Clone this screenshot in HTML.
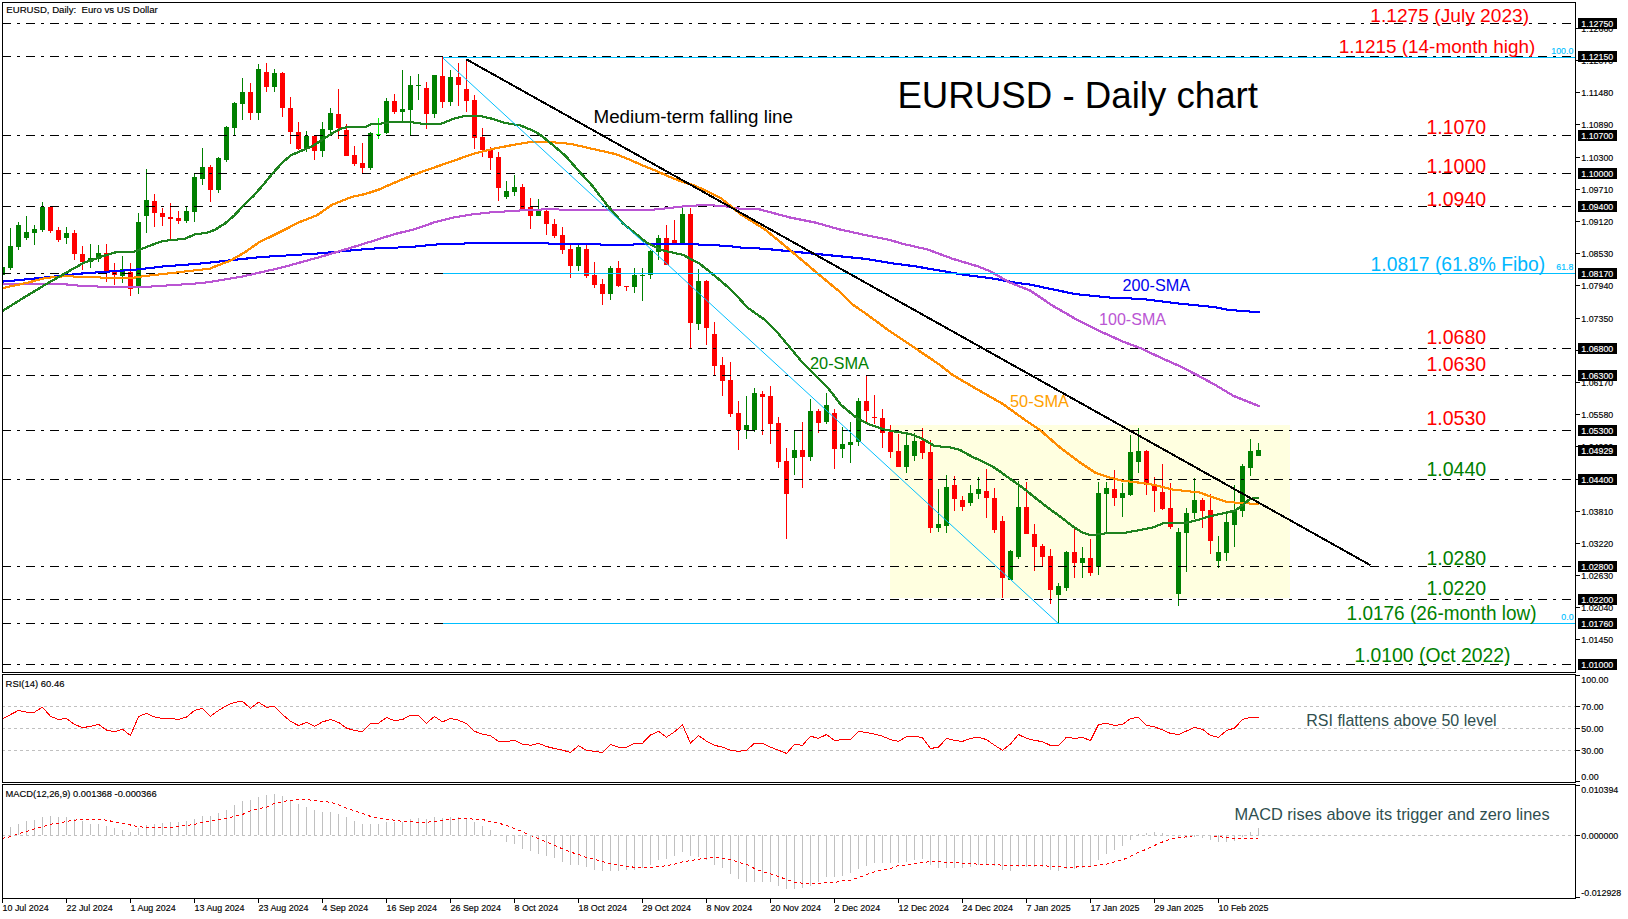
<!DOCTYPE html>
<html><head><meta charset="utf-8"><title>EURUSD - Daily chart</title>
<style>html,body{margin:0;padding:0;background:#fff;overflow:hidden}svg text{white-space:pre}</style></head>
<body>
<svg width="1628" height="919" viewBox="0 0 1628 919" style="display:block">
<rect x="0" y="0" width="1628" height="919" fill="#fff"/>
<defs><clipPath id="cm"><rect x="3" y="3" width="1572" height="669"/></clipPath></defs>
<g shape-rendering="crispEdges">
<g clip-path="url(#cm)">
<rect x="890" y="425" width="400" height="173" fill="#FFFFE0"/>
<rect x="2" y="265" width="1" height="12" fill="#008000"/>
<rect x="0" y="267" width="5" height="8" fill="#008000"/>
<rect x="10" y="228" width="1" height="42" fill="#008000"/>
<rect x="8" y="246" width="5" height="22" fill="#008000"/>
<rect x="18" y="222" width="1" height="28" fill="#008000"/>
<rect x="16" y="225" width="5" height="22" fill="#008000"/>
<rect x="26" y="216" width="1" height="24" fill="#008000"/>
<rect x="24" y="232" width="5" height="6" fill="#008000"/>
<rect x="34" y="225" width="1" height="20" fill="#008000"/>
<rect x="32" y="229" width="5" height="4" fill="#008000"/>
<rect x="42" y="202" width="1" height="30" fill="#008000"/>
<rect x="40" y="207" width="5" height="23" fill="#008000"/>
<rect x="50" y="207" width="1" height="26" fill="#FF0000"/>
<rect x="48" y="207" width="5" height="24" fill="#FF0000"/>
<rect x="58" y="227" width="1" height="15" fill="#FF0000"/>
<rect x="56" y="230" width="5" height="10" fill="#FF0000"/>
<rect x="66" y="227" width="1" height="17" fill="#008000"/>
<rect x="64" y="233" width="5" height="5" fill="#008000"/>
<rect x="74" y="230" width="1" height="30" fill="#FF0000"/>
<rect x="72" y="233" width="5" height="21" fill="#FF0000"/>
<rect x="82" y="246" width="1" height="24" fill="#FF0000"/>
<rect x="80" y="254" width="5" height="8" fill="#FF0000"/>
<rect x="90" y="244" width="1" height="24" fill="#008000"/>
<rect x="88" y="258" width="5" height="4" fill="#008000"/>
<rect x="98" y="245" width="1" height="17" fill="#008000"/>
<rect x="96" y="253" width="5" height="6" fill="#008000"/>
<rect x="106" y="244" width="1" height="38" fill="#FF0000"/>
<rect x="104" y="253" width="5" height="19" fill="#FF0000"/>
<rect x="114" y="263" width="1" height="22" fill="#FF0000"/>
<rect x="112" y="272" width="5" height="3" fill="#FF0000"/>
<rect x="122" y="256" width="1" height="27" fill="#008000"/>
<rect x="120" y="269" width="5" height="7" fill="#008000"/>
<rect x="130" y="263" width="1" height="33" fill="#FF0000"/>
<rect x="128" y="272" width="5" height="17" fill="#FF0000"/>
<rect x="138" y="213" width="1" height="81" fill="#008000"/>
<rect x="136" y="222" width="5" height="64" fill="#008000"/>
<rect x="146" y="169" width="1" height="64" fill="#008000"/>
<rect x="144" y="200" width="5" height="16" fill="#008000"/>
<rect x="154" y="194" width="1" height="33" fill="#FF0000"/>
<rect x="152" y="201" width="5" height="12" fill="#FF0000"/>
<rect x="162" y="208" width="1" height="18" fill="#FF0000"/>
<rect x="160" y="213" width="5" height="4" fill="#FF0000"/>
<rect x="170" y="203" width="1" height="36" fill="#FF0000"/>
<rect x="168" y="217" width="5" height="2" fill="#FF0000"/>
<rect x="178" y="211" width="1" height="13" fill="#FF0000"/>
<rect x="176" y="218" width="5" height="3" fill="#FF0000"/>
<rect x="186" y="207" width="1" height="16" fill="#008000"/>
<rect x="184" y="211" width="5" height="10" fill="#008000"/>
<rect x="194" y="174" width="1" height="48" fill="#008000"/>
<rect x="192" y="177" width="5" height="35" fill="#008000"/>
<rect x="202" y="148" width="1" height="37" fill="#008000"/>
<rect x="200" y="167" width="5" height="12" fill="#008000"/>
<rect x="210" y="165" width="1" height="37" fill="#FF0000"/>
<rect x="208" y="167" width="5" height="23" fill="#FF0000"/>
<rect x="218" y="157" width="1" height="36" fill="#008000"/>
<rect x="216" y="158" width="5" height="32" fill="#008000"/>
<rect x="226" y="126" width="1" height="36" fill="#008000"/>
<rect x="224" y="127" width="5" height="33" fill="#008000"/>
<rect x="234" y="102" width="1" height="33" fill="#008000"/>
<rect x="232" y="103" width="5" height="25" fill="#008000"/>
<rect x="242" y="78" width="1" height="42" fill="#008000"/>
<rect x="240" y="92" width="5" height="12" fill="#008000"/>
<rect x="250" y="83" width="1" height="37" fill="#FF0000"/>
<rect x="248" y="92" width="5" height="21" fill="#FF0000"/>
<rect x="258" y="64" width="1" height="56" fill="#008000"/>
<rect x="256" y="69" width="5" height="44" fill="#008000"/>
<rect x="266" y="63" width="1" height="29" fill="#FF0000"/>
<rect x="264" y="72" width="5" height="15" fill="#FF0000"/>
<rect x="274" y="69" width="1" height="23" fill="#008000"/>
<rect x="272" y="73" width="5" height="14" fill="#008000"/>
<rect x="282" y="72" width="1" height="45" fill="#FF0000"/>
<rect x="280" y="73" width="5" height="35" fill="#FF0000"/>
<rect x="290" y="97" width="1" height="47" fill="#FF0000"/>
<rect x="288" y="108" width="5" height="24" fill="#FF0000"/>
<rect x="298" y="122" width="1" height="28" fill="#FF0000"/>
<rect x="296" y="132" width="5" height="17" fill="#FF0000"/>
<rect x="306" y="131" width="1" height="21" fill="#008000"/>
<rect x="304" y="136" width="5" height="13" fill="#008000"/>
<rect x="314" y="135" width="1" height="25" fill="#FF0000"/>
<rect x="312" y="136" width="5" height="15" fill="#FF0000"/>
<rect x="322" y="122" width="1" height="35" fill="#008000"/>
<rect x="320" y="129" width="5" height="22" fill="#008000"/>
<rect x="330" y="108" width="1" height="27" fill="#008000"/>
<rect x="328" y="113" width="5" height="17" fill="#008000"/>
<rect x="338" y="89" width="1" height="50" fill="#FF0000"/>
<rect x="336" y="114" width="5" height="14" fill="#FF0000"/>
<rect x="346" y="124" width="1" height="32" fill="#FF0000"/>
<rect x="344" y="130" width="5" height="26" fill="#FF0000"/>
<rect x="354" y="146" width="1" height="20" fill="#FF0000"/>
<rect x="352" y="155" width="5" height="9" fill="#FF0000"/>
<rect x="362" y="143" width="1" height="30" fill="#FF0000"/>
<rect x="360" y="163" width="5" height="5" fill="#FF0000"/>
<rect x="370" y="132" width="1" height="38" fill="#008000"/>
<rect x="368" y="133" width="5" height="35" fill="#008000"/>
<rect x="378" y="118" width="1" height="21" fill="#00FF00"/>
<rect x="376" y="134" width="5" height="1" fill="#00FF00"/>
<rect x="386" y="98" width="1" height="36" fill="#008000"/>
<rect x="384" y="101" width="5" height="32" fill="#008000"/>
<rect x="394" y="94" width="1" height="20" fill="#FF0000"/>
<rect x="392" y="101" width="5" height="11" fill="#FF0000"/>
<rect x="402" y="70" width="1" height="52" fill="#008000"/>
<rect x="400" y="109" width="5" height="3" fill="#008000"/>
<rect x="410" y="76" width="1" height="60" fill="#008000"/>
<rect x="408" y="85" width="5" height="25" fill="#008000"/>
<rect x="418" y="74" width="1" height="26" fill="#008000"/>
<rect x="416" y="85" width="5" height="1" fill="#008000"/>
<rect x="426" y="82" width="1" height="47" fill="#FF0000"/>
<rect x="424" y="88" width="5" height="26" fill="#FF0000"/>
<rect x="434" y="75" width="1" height="43" fill="#008000"/>
<rect x="432" y="75" width="5" height="39" fill="#008000"/>
<rect x="442" y="57" width="1" height="51" fill="#FF0000"/>
<rect x="440" y="76" width="5" height="26" fill="#FF0000"/>
<rect x="450" y="70" width="1" height="36" fill="#008000"/>
<rect x="448" y="77" width="5" height="25" fill="#008000"/>
<rect x="458" y="63" width="1" height="43" fill="#FF0000"/>
<rect x="456" y="77" width="5" height="8" fill="#FF0000"/>
<rect x="466" y="59" width="1" height="53" fill="#FF0000"/>
<rect x="464" y="89" width="5" height="12" fill="#FF0000"/>
<rect x="474" y="95" width="1" height="54" fill="#FF0000"/>
<rect x="472" y="100" width="5" height="38" fill="#FF0000"/>
<rect x="482" y="128" width="1" height="29" fill="#FF0000"/>
<rect x="480" y="137" width="5" height="13" fill="#FF0000"/>
<rect x="490" y="147" width="1" height="23" fill="#FF0000"/>
<rect x="488" y="150" width="5" height="8" fill="#FF0000"/>
<rect x="498" y="152" width="1" height="49" fill="#FF0000"/>
<rect x="496" y="157" width="5" height="31" fill="#FF0000"/>
<rect x="506" y="181" width="1" height="18" fill="#008000"/>
<rect x="504" y="191" width="5" height="6" fill="#008000"/>
<rect x="514" y="175" width="1" height="21" fill="#008000"/>
<rect x="512" y="187" width="5" height="5" fill="#008000"/>
<rect x="522" y="184" width="1" height="25" fill="#FF0000"/>
<rect x="520" y="187" width="5" height="22" fill="#FF0000"/>
<rect x="530" y="198" width="1" height="31" fill="#FF0000"/>
<rect x="528" y="207" width="5" height="9" fill="#FF0000"/>
<rect x="538" y="199" width="1" height="17" fill="#008000"/>
<rect x="536" y="210" width="5" height="6" fill="#008000"/>
<rect x="546" y="210" width="1" height="25" fill="#FF0000"/>
<rect x="544" y="211" width="5" height="13" fill="#FF0000"/>
<rect x="554" y="219" width="1" height="19" fill="#FF0000"/>
<rect x="552" y="224" width="5" height="12" fill="#FF0000"/>
<rect x="562" y="227" width="1" height="27" fill="#FF0000"/>
<rect x="560" y="235" width="5" height="15" fill="#FF0000"/>
<rect x="570" y="245" width="1" height="33" fill="#FF0000"/>
<rect x="568" y="249" width="5" height="17" fill="#FF0000"/>
<rect x="578" y="245" width="1" height="26" fill="#008000"/>
<rect x="576" y="247" width="5" height="19" fill="#008000"/>
<rect x="586" y="245" width="1" height="33" fill="#FF0000"/>
<rect x="584" y="249" width="5" height="27" fill="#FF0000"/>
<rect x="594" y="262" width="1" height="26" fill="#FF0000"/>
<rect x="592" y="275" width="5" height="10" fill="#FF0000"/>
<rect x="602" y="279" width="1" height="26" fill="#FF0000"/>
<rect x="600" y="284" width="5" height="10" fill="#FF0000"/>
<rect x="610" y="266" width="1" height="34" fill="#008000"/>
<rect x="608" y="268" width="5" height="26" fill="#008000"/>
<rect x="618" y="261" width="1" height="26" fill="#FF0000"/>
<rect x="616" y="268" width="5" height="18" fill="#FF0000"/>
<rect x="626" y="286" width="1" height="5" fill="#FF0000"/>
<rect x="624" y="286" width="5" height="1" fill="#FF0000"/>
<rect x="634" y="268" width="1" height="25" fill="#008000"/>
<rect x="632" y="275" width="5" height="12" fill="#008000"/>
<rect x="642" y="268" width="1" height="33" fill="#008000"/>
<rect x="640" y="275" width="5" height="1" fill="#008000"/>
<rect x="650" y="250" width="1" height="29" fill="#008000"/>
<rect x="648" y="251" width="5" height="24" fill="#008000"/>
<rect x="658" y="235" width="1" height="25" fill="#008000"/>
<rect x="656" y="238" width="5" height="14" fill="#008000"/>
<rect x="666" y="225" width="1" height="40" fill="#FF0000"/>
<rect x="664" y="238" width="5" height="27" fill="#FF0000"/>
<rect x="674" y="220" width="1" height="24" fill="#FF0000"/>
<rect x="672" y="240" width="5" height="3" fill="#FF0000"/>
<rect x="682" y="208" width="1" height="35" fill="#008000"/>
<rect x="680" y="214" width="5" height="29" fill="#008000"/>
<rect x="690" y="208" width="1" height="140" fill="#FF0000"/>
<rect x="688" y="214" width="5" height="109" fill="#FF0000"/>
<rect x="698" y="269" width="1" height="61" fill="#008000"/>
<rect x="696" y="281" width="5" height="43" fill="#008000"/>
<rect x="706" y="280" width="1" height="65" fill="#FF0000"/>
<rect x="704" y="281" width="5" height="47" fill="#FF0000"/>
<rect x="714" y="322" width="1" height="54" fill="#FF0000"/>
<rect x="712" y="334" width="5" height="32" fill="#FF0000"/>
<rect x="722" y="357" width="1" height="39" fill="#FF0000"/>
<rect x="720" y="365" width="5" height="16" fill="#FF0000"/>
<rect x="730" y="362" width="1" height="55" fill="#FF0000"/>
<rect x="728" y="380" width="5" height="34" fill="#FF0000"/>
<rect x="738" y="401" width="1" height="49" fill="#FF0000"/>
<rect x="736" y="413" width="5" height="17" fill="#FF0000"/>
<rect x="746" y="396" width="1" height="43" fill="#008000"/>
<rect x="744" y="425" width="5" height="5" fill="#008000"/>
<rect x="754" y="388" width="1" height="44" fill="#008000"/>
<rect x="752" y="393" width="5" height="37" fill="#008000"/>
<rect x="762" y="391" width="1" height="44" fill="#FF0000"/>
<rect x="760" y="394" width="5" height="3" fill="#FF0000"/>
<rect x="770" y="386" width="1" height="58" fill="#FF0000"/>
<rect x="768" y="396" width="5" height="28" fill="#FF0000"/>
<rect x="778" y="417" width="1" height="51" fill="#FF0000"/>
<rect x="776" y="423" width="5" height="39" fill="#FF0000"/>
<rect x="786" y="448" width="1" height="91" fill="#FF0000"/>
<rect x="784" y="461" width="5" height="33" fill="#FF0000"/>
<rect x="794" y="430" width="1" height="45" fill="#008000"/>
<rect x="792" y="450" width="5" height="8" fill="#008000"/>
<rect x="802" y="422" width="1" height="66" fill="#FF0000"/>
<rect x="800" y="450" width="5" height="7" fill="#FF0000"/>
<rect x="810" y="399" width="1" height="62" fill="#008000"/>
<rect x="808" y="411" width="5" height="46" fill="#008000"/>
<rect x="818" y="409" width="1" height="24" fill="#FF0000"/>
<rect x="816" y="411" width="5" height="12" fill="#FF0000"/>
<rect x="826" y="393" width="1" height="31" fill="#008000"/>
<rect x="824" y="405" width="5" height="17" fill="#008000"/>
<rect x="834" y="409" width="1" height="60" fill="#FF0000"/>
<rect x="832" y="413" width="5" height="36" fill="#FF0000"/>
<rect x="842" y="427" width="1" height="31" fill="#008000"/>
<rect x="840" y="444" width="5" height="5" fill="#008000"/>
<rect x="850" y="422" width="1" height="41" fill="#008000"/>
<rect x="848" y="442" width="5" height="3" fill="#008000"/>
<rect x="858" y="398" width="1" height="48" fill="#008000"/>
<rect x="856" y="401" width="5" height="41" fill="#008000"/>
<rect x="866" y="375" width="1" height="48" fill="#FF0000"/>
<rect x="864" y="401" width="5" height="10" fill="#FF0000"/>
<rect x="874" y="395" width="1" height="29" fill="#FF0000"/>
<rect x="872" y="417" width="5" height="1" fill="#FF0000"/>
<rect x="882" y="409" width="1" height="39" fill="#FF0000"/>
<rect x="880" y="418" width="5" height="15" fill="#FF0000"/>
<rect x="890" y="425" width="1" height="33" fill="#FF0000"/>
<rect x="888" y="432" width="5" height="20" fill="#FF0000"/>
<rect x="898" y="434" width="1" height="33" fill="#FF0000"/>
<rect x="896" y="451" width="5" height="16" fill="#FF0000"/>
<rect x="906" y="434" width="1" height="39" fill="#008000"/>
<rect x="904" y="445" width="5" height="22" fill="#008000"/>
<rect x="914" y="433" width="1" height="28" fill="#008000"/>
<rect x="912" y="441" width="5" height="15" fill="#008000"/>
<rect x="922" y="428" width="1" height="31" fill="#FF0000"/>
<rect x="920" y="441" width="5" height="12" fill="#FF0000"/>
<rect x="930" y="440" width="1" height="93" fill="#FF0000"/>
<rect x="928" y="452" width="5" height="76" fill="#FF0000"/>
<rect x="938" y="489" width="1" height="43" fill="#008000"/>
<rect x="936" y="524" width="5" height="4" fill="#008000"/>
<rect x="946" y="475" width="1" height="58" fill="#008000"/>
<rect x="944" y="487" width="5" height="39" fill="#008000"/>
<rect x="954" y="476" width="1" height="35" fill="#FF0000"/>
<rect x="952" y="485" width="5" height="14" fill="#FF0000"/>
<rect x="962" y="496" width="1" height="15" fill="#FF0000"/>
<rect x="960" y="500" width="5" height="7" fill="#FF0000"/>
<rect x="970" y="485" width="1" height="21" fill="#008000"/>
<rect x="968" y="493" width="5" height="10" fill="#008000"/>
<rect x="978" y="477" width="1" height="22" fill="#008000"/>
<rect x="976" y="489" width="5" height="5" fill="#008000"/>
<rect x="986" y="469" width="1" height="49" fill="#FF0000"/>
<rect x="984" y="491" width="5" height="7" fill="#FF0000"/>
<rect x="994" y="488" width="1" height="45" fill="#FF0000"/>
<rect x="992" y="498" width="5" height="32" fill="#FF0000"/>
<rect x="1002" y="516" width="1" height="82" fill="#FF0000"/>
<rect x="1000" y="521" width="5" height="57" fill="#FF0000"/>
<rect x="1010" y="550" width="1" height="30" fill="#008000"/>
<rect x="1008" y="551" width="5" height="29" fill="#008000"/>
<rect x="1018" y="481" width="1" height="78" fill="#008000"/>
<rect x="1016" y="507" width="5" height="50" fill="#008000"/>
<rect x="1026" y="482" width="1" height="52" fill="#FF0000"/>
<rect x="1024" y="507" width="5" height="27" fill="#FF0000"/>
<rect x="1034" y="524" width="1" height="47" fill="#FF0000"/>
<rect x="1032" y="534" width="5" height="13" fill="#FF0000"/>
<rect x="1042" y="544" width="1" height="22" fill="#FF0000"/>
<rect x="1040" y="546" width="5" height="11" fill="#FF0000"/>
<rect x="1050" y="549" width="1" height="55" fill="#FF0000"/>
<rect x="1048" y="556" width="5" height="34" fill="#FF0000"/>
<rect x="1058" y="583" width="1" height="40" fill="#008000"/>
<rect x="1056" y="586" width="5" height="9" fill="#008000"/>
<rect x="1066" y="551" width="1" height="40" fill="#008000"/>
<rect x="1064" y="552" width="5" height="36" fill="#008000"/>
<rect x="1074" y="526" width="1" height="52" fill="#FF0000"/>
<rect x="1072" y="552" width="5" height="11" fill="#FF0000"/>
<rect x="1082" y="547" width="1" height="31" fill="#008000"/>
<rect x="1080" y="558" width="5" height="5" fill="#008000"/>
<rect x="1090" y="539" width="1" height="37" fill="#FF0000"/>
<rect x="1088" y="558" width="5" height="15" fill="#FF0000"/>
<rect x="1098" y="482" width="1" height="93" fill="#008000"/>
<rect x="1096" y="493" width="5" height="74" fill="#008000"/>
<rect x="1106" y="482" width="1" height="51" fill="#008000"/>
<rect x="1104" y="488" width="5" height="6" fill="#008000"/>
<rect x="1114" y="470" width="1" height="36" fill="#FF0000"/>
<rect x="1112" y="489" width="5" height="9" fill="#FF0000"/>
<rect x="1122" y="483" width="1" height="34" fill="#008000"/>
<rect x="1120" y="493" width="5" height="5" fill="#008000"/>
<rect x="1130" y="435" width="1" height="61" fill="#008000"/>
<rect x="1128" y="452" width="5" height="43" fill="#008000"/>
<rect x="1138" y="428" width="1" height="45" fill="#008000"/>
<rect x="1136" y="451" width="5" height="11" fill="#008000"/>
<rect x="1146" y="450" width="1" height="45" fill="#FF0000"/>
<rect x="1144" y="451" width="5" height="34" fill="#FF0000"/>
<rect x="1154" y="477" width="1" height="35" fill="#FF0000"/>
<rect x="1152" y="485" width="5" height="6" fill="#FF0000"/>
<rect x="1162" y="464" width="1" height="46" fill="#FF0000"/>
<rect x="1160" y="492" width="5" height="17" fill="#FF0000"/>
<rect x="1170" y="483" width="1" height="46" fill="#FF0000"/>
<rect x="1168" y="508" width="5" height="19" fill="#FF0000"/>
<rect x="1178" y="528" width="1" height="78" fill="#008000"/>
<rect x="1176" y="532" width="5" height="62" fill="#008000"/>
<rect x="1186" y="508" width="1" height="64" fill="#008000"/>
<rect x="1184" y="513" width="5" height="20" fill="#008000"/>
<rect x="1194" y="478" width="1" height="41" fill="#008000"/>
<rect x="1192" y="500" width="5" height="13" fill="#008000"/>
<rect x="1202" y="498" width="1" height="30" fill="#FF0000"/>
<rect x="1200" y="500" width="5" height="11" fill="#FF0000"/>
<rect x="1210" y="494" width="1" height="60" fill="#FF0000"/>
<rect x="1208" y="510" width="5" height="31" fill="#FF0000"/>
<rect x="1218" y="536" width="1" height="32" fill="#008000"/>
<rect x="1216" y="552" width="5" height="9" fill="#008000"/>
<rect x="1226" y="514" width="1" height="47" fill="#008000"/>
<rect x="1224" y="522" width="5" height="31" fill="#008000"/>
<rect x="1234" y="485" width="1" height="62" fill="#008000"/>
<rect x="1232" y="510" width="5" height="15" fill="#008000"/>
<rect x="1242" y="464" width="1" height="53" fill="#008000"/>
<rect x="1240" y="466" width="5" height="45" fill="#008000"/>
<rect x="1250" y="439" width="1" height="37" fill="#008000"/>
<rect x="1248" y="451" width="5" height="17" fill="#008000"/>
<rect x="1258" y="443" width="1" height="13" fill="#008000"/>
<rect x="1256" y="450" width="5" height="6" fill="#008000"/>
<line x1="2" y1="23.5" x2="1575" y2="23.5" stroke="#000" stroke-width="1" stroke-dasharray="9 6 3 6"/>
<line x1="2" y1="56.5" x2="1575" y2="56.5" stroke="#000" stroke-width="1" stroke-dasharray="9 6 3 6"/>
<line x1="2" y1="135.5" x2="1575" y2="135.5" stroke="#000" stroke-width="1" stroke-dasharray="9 6 3 6"/>
<line x1="2" y1="173.5" x2="1575" y2="173.5" stroke="#000" stroke-width="1" stroke-dasharray="9 6 3 6"/>
<line x1="2" y1="206.5" x2="1575" y2="206.5" stroke="#000" stroke-width="1" stroke-dasharray="9 6 3 6"/>
<line x1="2" y1="273.5" x2="1575" y2="273.5" stroke="#000" stroke-width="1" stroke-dasharray="9 6 3 6"/>
<line x1="2" y1="348.5" x2="1575" y2="348.5" stroke="#000" stroke-width="1" stroke-dasharray="9 6 3 6"/>
<line x1="2" y1="375.5" x2="1575" y2="375.5" stroke="#000" stroke-width="1" stroke-dasharray="9 6 3 6"/>
<line x1="2" y1="430.5" x2="1575" y2="430.5" stroke="#000" stroke-width="1" stroke-dasharray="9 6 3 6"/>
<line x1="2" y1="479.5" x2="1575" y2="479.5" stroke="#000" stroke-width="1" stroke-dasharray="9 6 3 6"/>
<line x1="2" y1="566.5" x2="1575" y2="566.5" stroke="#000" stroke-width="1" stroke-dasharray="9 6 3 6"/>
<line x1="2" y1="599.5" x2="1575" y2="599.5" stroke="#000" stroke-width="1" stroke-dasharray="9 6 3 6"/>
<line x1="2" y1="623.5" x2="1575" y2="623.5" stroke="#000" stroke-width="1" stroke-dasharray="9 6 3 6"/>
<line x1="2" y1="664.5" x2="1575" y2="664.5" stroke="#000" stroke-width="1" stroke-dasharray="9 6 3 6"/>
<defs><polyline id="p1" points="2.0,281.7 45.0,277.5 83.0,273.4 135.0,269.7 163.0,266.5 200.0,263.6 259.0,257.2 318.0,253.5 370.0,248.7 410.0,247.0 444.0,243.8 500.0,243.0 530.0,242.9 554.8,243.7 610.6,244.7 683.0,244.1 705.8,244.7 730.6,246.2 740.0,247.5 765.0,248.8 790.0,251.3 815.0,253.8 840.0,256.3 865.0,258.8 890.0,263.0 915.0,266.3 940.0,270.6 965.0,275.0 990.0,278.0 1015.0,282.6 1030.0,284.6 1052.0,289.2 1076.0,294.2 1113.0,297.9 1141.0,298.8 1178.0,303.5 1215.0,307.2 1228.0,309.9 1259.0,312.2" fill="none" stroke="#0000FF" stroke-width="1" stroke-linejoin="round"/></defs>
<use href="#p1" x="-0.5" y="-0.5"/>
<use href="#p1" x="0.5" y="-0.5"/>
<use href="#p1" x="-0.5" y="0.5"/>
<use href="#p1" x="0.5" y="0.5"/>
<defs><polyline id="p2" points="2.0,284.3 65.0,284.3 82.0,286.0 100.0,286.6 125.0,287.0 145.0,287.0 160.0,285.8 171.0,285.3 200.0,283.2 210.0,282.0 240.0,277.0 280.0,268.0 320.0,257.0 360.0,245.0 395.0,234.0 414.6,229.2 434.2,222.4 453.8,217.5 473.4,214.2 493.0,212.2 512.5,211.0 532.1,209.6 551.7,209.4 592.0,210.0 650.0,210.0 683.0,206.5 705.8,204.8 726.4,206.5 740.0,208.8 760.0,209.5 790.0,217.5 815.0,222.5 840.0,229.5 865.0,235.0 890.0,240.0 902.6,243.8 927.6,249.5 952.7,258.8 977.7,266.3 990.2,271.3 1010.0,282.6 1030.0,290.5 1052.0,305.3 1076.0,319.2 1100.0,331.2 1122.5,341.4 1141.0,348.4 1159.5,357.1 1178.0,365.4 1196.5,374.7 1215.0,384.8 1233.5,395.9 1259.0,406.1" fill="none" stroke="#BA55D3" stroke-width="1" stroke-linejoin="round"/></defs>
<use href="#p2" x="-0.5" y="-0.5"/>
<use href="#p2" x="0.5" y="-0.5"/>
<use href="#p2" x="-0.5" y="0.5"/>
<use href="#p2" x="0.5" y="0.5"/>
<defs><polyline id="p3" points="2.0,288.2 28.0,282.6 45.0,278.0 65.0,276.2 100.0,277.5 135.0,277.5 146.0,275.9 171.0,273.1 193.5,270.5 210.0,268.6 215.0,266.5 229.5,261.0 244.0,252.8 259.0,242.4 284.1,230.0 298.8,222.4 316.5,215.5 332.1,204.8 351.7,196.9 365.4,194.0 379.1,189.5 390.9,184.2 405.0,178.3 414.6,174.4 434.2,167.5 453.8,160.7 473.4,153.8 493.0,148.9 512.5,145.0 532.1,141.7 551.7,142.1 571.3,144.0 590.0,148.3 605.0,151.7 616.0,154.2 629.0,159.4 642.0,165.2 655.3,170.5 668.3,176.3 681.4,181.6 694.4,185.5 707.5,191.4 720.5,197.9 727.0,203.1 733.6,208.3 740.0,213.8 765.0,229.5 790.0,250.0 815.0,271.3 840.0,292.0 852.6,304.6 865.0,313.0 890.0,331.4 915.0,348.0 940.0,365.0 952.7,375.0 977.7,389.6 1002.7,403.9 1025.0,420.0 1040.0,430.0 1060.0,447.5 1080.0,462.6 1095.0,472.6 1110.0,477.6 1122.5,480.8 1135.0,482.1 1147.6,483.8 1160.0,486.3 1172.6,489.6 1185.0,490.9 1200.0,492.6 1210.0,496.4 1225.0,501.4 1235.0,502.6 1247.7,503.4 1258.5,504.1" fill="none" stroke="#FF8C00" stroke-width="1" stroke-linejoin="round"/></defs>
<use href="#p3" x="-0.5" y="-0.5"/>
<use href="#p3" x="0.5" y="-0.5"/>
<use href="#p3" x="-0.5" y="0.5"/>
<use href="#p3" x="0.5" y="0.5"/>
<defs><polyline id="p4" points="2.0,311.3 20.0,300.0 47.0,283.6 65.0,273.4 83.0,263.2 102.0,256.4 115.0,252.5 135.0,251.5 150.0,245.6 163.0,241.0 185.0,238.8 195.0,234.2 206.8,232.9 214.6,229.9 224.4,223.9 234.2,215.6 244.0,204.9 253.8,195.6 263.6,184.3 273.4,172.5 283.1,161.8 291.0,155.3 300.8,151.0 312.5,146.1 322.3,139.6 332.1,133.4 341.9,128.5 347.8,126.9 365.4,126.9 371.3,124.0 381.1,123.6 390.9,122.2 410.7,122.1 424.4,124.0 442.0,123.5 453.8,118.6 463.6,116.2 479.2,115.6 493.0,119.0 504.7,122.9 520.4,125.4 532.1,130.3 540.0,134.6 551.7,144.0 565.4,155.8 581.0,173.4 591.0,184.2 608.6,206.9 623.0,223.4 645.8,242.0 662.3,250.3 683.0,254.9 699.6,263.7 712.0,273.5 728.5,287.5 736.8,295.8 747.5,307.6 765.0,320.0 777.5,332.6 790.0,347.6 802.5,362.6 815.0,375.0 828.0,387.9 841.0,404.9 856.8,418.0 869.8,424.5 882.9,429.2 897.5,432.0 910.0,433.8 922.5,438.8 935.0,446.3 947.6,446.8 960.0,450.0 972.6,457.0 985.0,462.6 995.0,468.0 1010.0,478.8 1022.7,487.6 1035.0,497.6 1047.7,507.6 1060.0,516.4 1072.7,526.4 1082.7,532.7 1090.0,535.0 1097.8,534.4 1105.0,533.4 1122.5,533.4 1135.0,530.9 1152.6,527.6 1165.0,522.6 1185.0,523.0 1197.6,520.0 1210.0,516.2 1225.0,513.0 1235.0,510.5 1243.0,505.0 1249.0,499.6 1254.0,498.0 1258.5,498.0" fill="none" stroke="#1E821E" stroke-width="1" stroke-linejoin="round"/></defs>
<use href="#p4" x="-0.5" y="-0.5"/>
<use href="#p4" x="0.5" y="-0.5"/>
<use href="#p4" x="-0.5" y="0.5"/>
<use href="#p4" x="0.5" y="0.5"/>
<line x1="443" y1="57.5" x2="1575" y2="57.5" stroke="#00BFFF" stroke-width="1"/>
<line x1="443" y1="273.5" x2="1575" y2="273.5" stroke="#00BFFF" stroke-width="1"/>
<line x1="443" y1="623.5" x2="1575" y2="623.5" stroke="#00BFFF" stroke-width="1"/>
<line x1="443" y1="58.1" x2="1058.5" y2="623.6" stroke="#00BFFF" stroke-width="1" shape-rendering="auto"/>
<line x1="466.5" y1="59.4" x2="1370.6" y2="565.3" stroke="#000" stroke-width="2"/>
</g>
<line x1="2" y1="706.5" x2="1575" y2="706.5" stroke="#C0C0C0" stroke-width="1" stroke-dasharray="3 3"/>
<line x1="2" y1="728.5" x2="1575" y2="728.5" stroke="#C0C0C0" stroke-width="1" stroke-dasharray="3 3"/>
<line x1="2" y1="750.5" x2="1575" y2="750.5" stroke="#C0C0C0" stroke-width="1" stroke-dasharray="3 3"/>
<polyline points="2.5,719.0 10.5,714.6 18.5,710.4 26.5,712.1 34.5,712.1 42.5,707.2 50.5,716.3 58.5,719.5 66.5,718.5 74.5,724.4 82.5,727.6 90.5,726.4 98.5,724.4 106.5,730.0 114.5,731.8 122.5,729.3 130.5,735.5 138.5,716.5 146.5,713.3 154.5,717.0 162.5,718.5 170.5,718.5 178.5,719.5 186.5,717.0 194.5,710.4 202.5,708.4 210.5,716.3 218.5,710.4 226.5,705.5 234.5,702.3 242.5,701.3 250.5,708.4 258.5,702.3 266.5,707.2 274.5,706.5 282.5,714.6 290.5,721.2 298.5,725.6 306.5,722.4 314.5,726.4 322.5,721.9 330.5,719.5 338.5,722.4 346.5,728.1 354.5,730.5 362.5,731.8 370.5,723.7 378.5,723.2 386.5,717.5 394.5,720.7 402.5,719.5 410.5,715.3 418.5,715.3 426.5,723.2 434.5,716.5 442.5,721.9 450.5,718.5 458.5,720.2 466.5,723.7 474.5,731.3 482.5,734.2 490.5,735.7 498.5,741.4 506.5,741.4 514.5,740.4 522.5,744.1 530.5,745.3 538.5,743.3 546.5,746.5 554.5,748.5 562.5,750.2 570.5,752.4 578.5,745.8 586.5,750.2 594.5,751.4 602.5,752.4 610.5,744.5 618.5,747.2 626.5,747.2 634.5,743.3 642.5,743.3 650.5,735.0 658.5,731.3 666.5,737.2 674.5,731.8 682.5,724.9 690.5,743.1 698.5,735.5 706.5,741.1 714.5,745.3 722.5,747.2 730.5,750.2 738.5,751.4 746.5,750.2 754.5,743.3 762.5,743.3 770.5,747.2 778.5,750.2 786.5,753.4 794.5,744.5 802.5,745.3 810.5,736.2 818.5,738.4 826.5,734.5 834.5,740.6 842.5,739.6 850.5,739.6 858.5,731.5 866.5,732.5 874.5,734.2 882.5,736.2 890.5,739.6 898.5,741.4 906.5,736.7 914.5,736.2 922.5,737.7 930.5,748.5 938.5,747.2 946.5,738.4 954.5,740.4 962.5,741.4 970.5,738.4 978.5,737.2 986.5,739.6 994.5,745.3 1002.5,750.2 1010.5,744.1 1018.5,734.5 1026.5,738.4 1034.5,740.4 1042.5,741.6 1050.5,745.5 1058.5,745.5 1066.5,737.2 1074.5,738.4 1082.5,737.4 1090.5,740.6 1098.5,724.6 1106.5,723.2 1114.5,725.4 1122.5,724.4 1130.5,718.7 1138.5,717.3 1146.5,725.4 1154.5,726.9 1162.5,729.8 1170.5,733.5 1178.5,734.5 1186.5,731.0 1194.5,727.3 1202.5,729.3 1210.5,735.5 1218.5,737.4 1226.5,730.5 1234.5,728.1 1242.5,719.5 1250.5,717.3 1258.5,717.3" fill="none" stroke="#FF0000" stroke-width="1"/>
<rect x="10" y="827" width="1" height="8" fill="#C0C0C0"/>
<rect x="18" y="824" width="1" height="11" fill="#C0C0C0"/>
<rect x="26" y="821" width="1" height="14" fill="#C0C0C0"/>
<rect x="34" y="820" width="1" height="15" fill="#C0C0C0"/>
<rect x="42" y="817" width="1" height="18" fill="#C0C0C0"/>
<rect x="50" y="816" width="1" height="19" fill="#C0C0C0"/>
<rect x="58" y="817" width="1" height="18" fill="#C0C0C0"/>
<rect x="66" y="817" width="1" height="18" fill="#C0C0C0"/>
<rect x="74" y="819" width="1" height="16" fill="#C0C0C0"/>
<rect x="82" y="821" width="1" height="14" fill="#C0C0C0"/>
<rect x="90" y="824" width="1" height="11" fill="#C0C0C0"/>
<rect x="98" y="824" width="1" height="11" fill="#C0C0C0"/>
<rect x="106" y="826" width="1" height="9" fill="#C0C0C0"/>
<rect x="114" y="828" width="1" height="7" fill="#C0C0C0"/>
<rect x="122" y="830" width="1" height="5" fill="#C0C0C0"/>
<rect x="130" y="832" width="1" height="3" fill="#C0C0C0"/>
<rect x="138" y="828" width="1" height="7" fill="#C0C0C0"/>
<rect x="146" y="825" width="1" height="10" fill="#C0C0C0"/>
<rect x="154" y="824" width="1" height="11" fill="#C0C0C0"/>
<rect x="162" y="823" width="1" height="12" fill="#C0C0C0"/>
<rect x="170" y="822" width="1" height="13" fill="#C0C0C0"/>
<rect x="178" y="822" width="1" height="13" fill="#C0C0C0"/>
<rect x="186" y="821" width="1" height="14" fill="#C0C0C0"/>
<rect x="194" y="819" width="1" height="16" fill="#C0C0C0"/>
<rect x="202" y="816" width="1" height="19" fill="#C0C0C0"/>
<rect x="210" y="816" width="1" height="19" fill="#C0C0C0"/>
<rect x="218" y="813" width="1" height="22" fill="#C0C0C0"/>
<rect x="226" y="810" width="1" height="25" fill="#C0C0C0"/>
<rect x="234" y="805" width="1" height="30" fill="#C0C0C0"/>
<rect x="242" y="801" width="1" height="34" fill="#C0C0C0"/>
<rect x="250" y="800" width="1" height="35" fill="#C0C0C0"/>
<rect x="258" y="797" width="1" height="38" fill="#C0C0C0"/>
<rect x="266" y="795" width="1" height="40" fill="#C0C0C0"/>
<rect x="274" y="794" width="1" height="41" fill="#C0C0C0"/>
<rect x="282" y="796" width="1" height="39" fill="#C0C0C0"/>
<rect x="290" y="800" width="1" height="35" fill="#C0C0C0"/>
<rect x="298" y="804" width="1" height="31" fill="#C0C0C0"/>
<rect x="306" y="807" width="1" height="28" fill="#C0C0C0"/>
<rect x="314" y="810" width="1" height="25" fill="#C0C0C0"/>
<rect x="322" y="812" width="1" height="23" fill="#C0C0C0"/>
<rect x="330" y="812" width="1" height="23" fill="#C0C0C0"/>
<rect x="338" y="814" width="1" height="21" fill="#C0C0C0"/>
<rect x="346" y="817" width="1" height="18" fill="#C0C0C0"/>
<rect x="354" y="821" width="1" height="14" fill="#C0C0C0"/>
<rect x="362" y="824" width="1" height="11" fill="#C0C0C0"/>
<rect x="370" y="824" width="1" height="11" fill="#C0C0C0"/>
<rect x="378" y="824" width="1" height="11" fill="#C0C0C0"/>
<rect x="386" y="822" width="1" height="13" fill="#C0C0C0"/>
<rect x="394" y="822" width="1" height="13" fill="#C0C0C0"/>
<rect x="402" y="822" width="1" height="13" fill="#C0C0C0"/>
<rect x="410" y="819" width="1" height="16" fill="#C0C0C0"/>
<rect x="418" y="818" width="1" height="17" fill="#C0C0C0"/>
<rect x="426" y="819" width="1" height="16" fill="#C0C0C0"/>
<rect x="434" y="817" width="1" height="18" fill="#C0C0C0"/>
<rect x="442" y="818" width="1" height="17" fill="#C0C0C0"/>
<rect x="450" y="817" width="1" height="18" fill="#C0C0C0"/>
<rect x="458" y="817" width="1" height="18" fill="#C0C0C0"/>
<rect x="466" y="818" width="1" height="17" fill="#C0C0C0"/>
<rect x="474" y="822" width="1" height="13" fill="#C0C0C0"/>
<rect x="482" y="826" width="1" height="9" fill="#C0C0C0"/>
<rect x="490" y="830" width="1" height="5" fill="#C0C0C0"/>
<rect x="506" y="835" width="1" height="7" fill="#C0C0C0"/>
<rect x="514" y="835" width="1" height="9" fill="#C0C0C0"/>
<rect x="522" y="835" width="1" height="14" fill="#C0C0C0"/>
<rect x="530" y="835" width="1" height="16" fill="#C0C0C0"/>
<rect x="538" y="835" width="1" height="19" fill="#C0C0C0"/>
<rect x="546" y="835" width="1" height="21" fill="#C0C0C0"/>
<rect x="554" y="835" width="1" height="23" fill="#C0C0C0"/>
<rect x="562" y="835" width="1" height="27" fill="#C0C0C0"/>
<rect x="570" y="835" width="1" height="30" fill="#C0C0C0"/>
<rect x="578" y="835" width="1" height="30" fill="#C0C0C0"/>
<rect x="586" y="835" width="1" height="32" fill="#C0C0C0"/>
<rect x="594" y="835" width="1" height="35" fill="#C0C0C0"/>
<rect x="602" y="835" width="1" height="36" fill="#C0C0C0"/>
<rect x="610" y="835" width="1" height="36" fill="#C0C0C0"/>
<rect x="618" y="835" width="1" height="36" fill="#C0C0C0"/>
<rect x="626" y="835" width="1" height="35" fill="#C0C0C0"/>
<rect x="634" y="835" width="1" height="35" fill="#C0C0C0"/>
<rect x="642" y="835" width="1" height="33" fill="#C0C0C0"/>
<rect x="650" y="835" width="1" height="30" fill="#C0C0C0"/>
<rect x="658" y="835" width="1" height="25" fill="#C0C0C0"/>
<rect x="666" y="835" width="1" height="24" fill="#C0C0C0"/>
<rect x="674" y="835" width="1" height="21" fill="#C0C0C0"/>
<rect x="682" y="835" width="1" height="17" fill="#C0C0C0"/>
<rect x="690" y="835" width="1" height="21" fill="#C0C0C0"/>
<rect x="698" y="835" width="1" height="22" fill="#C0C0C0"/>
<rect x="706" y="835" width="1" height="25" fill="#C0C0C0"/>
<rect x="714" y="835" width="1" height="30" fill="#C0C0C0"/>
<rect x="722" y="835" width="1" height="33" fill="#C0C0C0"/>
<rect x="730" y="835" width="1" height="39" fill="#C0C0C0"/>
<rect x="738" y="835" width="1" height="44" fill="#C0C0C0"/>
<rect x="746" y="835" width="1" height="47" fill="#C0C0C0"/>
<rect x="754" y="835" width="1" height="47" fill="#C0C0C0"/>
<rect x="762" y="835" width="1" height="47" fill="#C0C0C0"/>
<rect x="770" y="835" width="1" height="47" fill="#C0C0C0"/>
<rect x="778" y="835" width="1" height="51" fill="#C0C0C0"/>
<rect x="786" y="835" width="1" height="54" fill="#C0C0C0"/>
<rect x="794" y="835" width="1" height="54" fill="#C0C0C0"/>
<rect x="802" y="835" width="1" height="53" fill="#C0C0C0"/>
<rect x="810" y="835" width="1" height="51" fill="#C0C0C0"/>
<rect x="818" y="835" width="1" height="47" fill="#C0C0C0"/>
<rect x="826" y="835" width="1" height="42" fill="#C0C0C0"/>
<rect x="834" y="835" width="1" height="42" fill="#C0C0C0"/>
<rect x="842" y="835" width="1" height="41" fill="#C0C0C0"/>
<rect x="850" y="835" width="1" height="38" fill="#C0C0C0"/>
<rect x="858" y="835" width="1" height="34" fill="#C0C0C0"/>
<rect x="866" y="835" width="1" height="31" fill="#C0C0C0"/>
<rect x="874" y="835" width="1" height="28" fill="#C0C0C0"/>
<rect x="882" y="835" width="1" height="28" fill="#C0C0C0"/>
<rect x="890" y="835" width="1" height="28" fill="#C0C0C0"/>
<rect x="898" y="835" width="1" height="28" fill="#C0C0C0"/>
<rect x="906" y="835" width="1" height="27" fill="#C0C0C0"/>
<rect x="914" y="835" width="1" height="25" fill="#C0C0C0"/>
<rect x="922" y="835" width="1" height="24" fill="#C0C0C0"/>
<rect x="930" y="835" width="1" height="30" fill="#C0C0C0"/>
<rect x="938" y="835" width="1" height="33" fill="#C0C0C0"/>
<rect x="946" y="835" width="1" height="33" fill="#C0C0C0"/>
<rect x="954" y="835" width="1" height="33" fill="#C0C0C0"/>
<rect x="962" y="835" width="1" height="33" fill="#C0C0C0"/>
<rect x="970" y="835" width="1" height="32" fill="#C0C0C0"/>
<rect x="978" y="835" width="1" height="30" fill="#C0C0C0"/>
<rect x="986" y="835" width="1" height="30" fill="#C0C0C0"/>
<rect x="994" y="835" width="1" height="31" fill="#C0C0C0"/>
<rect x="1002" y="835" width="1" height="35" fill="#C0C0C0"/>
<rect x="1010" y="835" width="1" height="36" fill="#C0C0C0"/>
<rect x="1018" y="835" width="1" height="32" fill="#C0C0C0"/>
<rect x="1026" y="835" width="1" height="32" fill="#C0C0C0"/>
<rect x="1034" y="835" width="1" height="32" fill="#C0C0C0"/>
<rect x="1042" y="835" width="1" height="32" fill="#C0C0C0"/>
<rect x="1050" y="835" width="1" height="35" fill="#C0C0C0"/>
<rect x="1058" y="835" width="1" height="36" fill="#C0C0C0"/>
<rect x="1066" y="835" width="1" height="34" fill="#C0C0C0"/>
<rect x="1074" y="835" width="1" height="34" fill="#C0C0C0"/>
<rect x="1082" y="835" width="1" height="33" fill="#C0C0C0"/>
<rect x="1090" y="835" width="1" height="32" fill="#C0C0C0"/>
<rect x="1098" y="835" width="1" height="25" fill="#C0C0C0"/>
<rect x="1106" y="835" width="1" height="19" fill="#C0C0C0"/>
<rect x="1114" y="835" width="1" height="15" fill="#C0C0C0"/>
<rect x="1122" y="835" width="1" height="11" fill="#C0C0C0"/>
<rect x="1130" y="835" width="1" height="5" fill="#C0C0C0"/>
<rect x="1138" y="834" width="1" height="1" fill="#C0C0C0"/>
<rect x="1146" y="833" width="1" height="2" fill="#C0C0C0"/>
<rect x="1154" y="832" width="1" height="3" fill="#C0C0C0"/>
<rect x="1162" y="833" width="1" height="2" fill="#C0C0C0"/>
<rect x="1178" y="835" width="1" height="3" fill="#C0C0C0"/>
<rect x="1186" y="835" width="1" height="3" fill="#C0C0C0"/>
<rect x="1194" y="835" width="1" height="2" fill="#C0C0C0"/>
<rect x="1202" y="835" width="1" height="3" fill="#C0C0C0"/>
<rect x="1210" y="835" width="1" height="5" fill="#C0C0C0"/>
<rect x="1218" y="835" width="1" height="7" fill="#C0C0C0"/>
<rect x="1226" y="835" width="1" height="7" fill="#C0C0C0"/>
<rect x="1234" y="835" width="1" height="6" fill="#C0C0C0"/>
<rect x="1242" y="835" width="1" height="2" fill="#C0C0C0"/>
<rect x="1250" y="832" width="1" height="3" fill="#C0C0C0"/>
<rect x="1258" y="828" width="1" height="7" fill="#C0C0C0"/>
<defs><pattern id="dp" x="2" y="0" width="6" height="200" patternUnits="userSpaceOnUse"><rect x="0" y="0" width="3" height="200" fill="#fff"/></pattern><mask id="dm" maskUnits="userSpaceOnUse" x="0" y="780" width="1628" height="125"><rect x="0" y="780" width="1628" height="125" fill="url(#dp)"/></mask></defs>
<polyline mask="url(#dm)" points="2.5,838.3 10.5,836.6 18.5,833.6 26.5,831.7 34.5,828.7 42.5,826.8 50.5,824.3 58.5,823.1 66.5,821.4 74.5,820.1 82.5,819.4 90.5,819.4 98.5,819.4 106.5,820.1 114.5,821.9 122.5,823.1 130.5,825.0 138.5,826.8 146.5,827.3 154.5,827.3 162.5,827.3 170.5,827.3 178.5,826.3 186.5,825.5 194.5,824.3 202.5,822.3 210.5,821.1 218.5,819.4 226.5,818.7 234.5,816.2 242.5,814.5 250.5,810.8 258.5,808.8 266.5,807.1 274.5,803.4 282.5,801.7 290.5,800.2 298.5,799.7 306.5,799.7 314.5,800.5 322.5,801.5 330.5,802.2 338.5,804.7 346.5,808.3 354.5,810.8 362.5,813.3 370.5,816.4 378.5,818.2 386.5,819.4 394.5,820.1 402.5,821.4 410.5,821.9 418.5,822.3 426.5,822.3 434.5,821.4 442.5,820.1 450.5,819.4 458.5,818.9 466.5,818.2 474.5,819.4 482.5,819.4 490.5,821.9 498.5,823.1 506.5,825.5 514.5,828.7 522.5,831.7 530.5,835.4 538.5,838.6 546.5,842.0 554.5,845.2 562.5,848.9 570.5,852.1 578.5,854.5 586.5,857.5 594.5,859.2 602.5,861.7 610.5,863.6 618.5,865.1 626.5,866.1 634.5,867.3 642.5,867.3 650.5,867.3 658.5,866.8 666.5,865.6 674.5,864.1 682.5,861.9 690.5,860.7 698.5,859.2 706.5,858.2 714.5,857.5 722.5,858.2 730.5,859.4 738.5,862.4 746.5,864.4 754.5,868.5 762.5,871.7 770.5,873.9 778.5,876.4 786.5,879.6 794.5,882.1 802.5,883.3 810.5,884.0 818.5,883.3 826.5,882.8 834.5,882.5 842.5,880.8 850.5,880.1 858.5,877.6 866.5,874.7 874.5,871.7 882.5,869.8 890.5,868.5 898.5,865.6 906.5,864.9 914.5,863.6 922.5,862.4 930.5,861.7 938.5,861.7 946.5,862.4 954.5,862.4 962.5,863.1 970.5,863.1 978.5,864.4 986.5,864.4 994.5,864.4 1002.5,865.3 1010.5,865.3 1018.5,865.3 1026.5,865.3 1034.5,865.3 1042.5,865.3 1050.5,866.6 1058.5,866.6 1066.5,867.3 1074.5,867.3 1082.5,866.1 1090.5,866.1 1098.5,865.3 1106.5,864.1 1114.5,861.9 1122.5,859.9 1130.5,856.3 1138.5,852.1 1146.5,849.3 1154.5,845.5 1162.5,842.0 1170.5,839.1 1178.5,837.8 1186.5,836.8 1194.5,835.6 1202.5,835.5 1210.5,835.6 1218.5,836.6 1226.5,837.6 1234.5,838.5 1242.5,838.7 1250.5,838.5 1258.5,838.0" fill="none" stroke="#FF0000" stroke-width="1"/>
<line x1="2" y1="835.5" x2="1575" y2="835.5" stroke="#C0C0C0" stroke-width="1" stroke-dasharray="3 3"/>
<rect x="2" y="2" width="1" height="671" fill="#000"/>
<rect x="1575" y="2" width="1" height="671" fill="#000"/>
<rect x="2" y="2" width="1574" height="1" fill="#000"/>
<rect x="2" y="672" width="1574" height="1" fill="#000"/>
<rect x="2" y="674" width="1" height="109" fill="#000"/>
<rect x="1575" y="674" width="1" height="109" fill="#000"/>
<rect x="2" y="674" width="1574" height="1" fill="#000"/>
<rect x="2" y="782" width="1574" height="1" fill="#000"/>
<rect x="2" y="784" width="1" height="115" fill="#000"/>
<rect x="1575" y="784" width="1" height="115" fill="#000"/>
<rect x="2" y="784" width="1574" height="1" fill="#000"/>
<rect x="2" y="898" width="1574" height="1" fill="#000"/>
<rect x="1576" y="675" width="4" height="1" fill="#000"/>
<rect x="1576" y="781" width="4" height="1" fill="#000"/>
<rect x="1576" y="785" width="4" height="1" fill="#000"/>
<rect x="1576" y="897" width="4" height="1" fill="#000"/>
</g>
<g font-family="Liberation Sans, Arial, sans-serif">
<rect x="1576" y="28" width="4" height="1" fill="#000" shape-rendering="crispEdges"/>
<text x="1581.3" y="31.7" fill="#000" stroke="#000" stroke-width="0.15" font-size="9.7px" textLength="32.0" lengthAdjust="spacingAndGlyphs" xml:space="preserve">1.12660</text>
<rect x="1576" y="60" width="4" height="1" fill="#000" shape-rendering="crispEdges"/>
<text x="1581.3" y="63.7" fill="#000" stroke="#000" stroke-width="0.15" font-size="9.7px" textLength="32.0" lengthAdjust="spacingAndGlyphs" xml:space="preserve">1.12070</text>
<rect x="1576" y="92" width="4" height="1" fill="#000" shape-rendering="crispEdges"/>
<text x="1581.3" y="95.7" fill="#000" stroke="#000" stroke-width="0.15" font-size="9.7px" textLength="32.0" lengthAdjust="spacingAndGlyphs" xml:space="preserve">1.11480</text>
<rect x="1576" y="124" width="4" height="1" fill="#000" shape-rendering="crispEdges"/>
<text x="1581.3" y="127.7" fill="#000" stroke="#000" stroke-width="0.15" font-size="9.7px" textLength="32.0" lengthAdjust="spacingAndGlyphs" xml:space="preserve">1.10890</text>
<rect x="1576" y="157" width="4" height="1" fill="#000" shape-rendering="crispEdges"/>
<text x="1581.3" y="160.7" fill="#000" stroke="#000" stroke-width="0.15" font-size="9.7px" textLength="32.0" lengthAdjust="spacingAndGlyphs" xml:space="preserve">1.10300</text>
<rect x="1576" y="189" width="4" height="1" fill="#000" shape-rendering="crispEdges"/>
<text x="1581.3" y="192.7" fill="#000" stroke="#000" stroke-width="0.15" font-size="9.7px" textLength="32.0" lengthAdjust="spacingAndGlyphs" xml:space="preserve">1.09710</text>
<rect x="1576" y="221" width="4" height="1" fill="#000" shape-rendering="crispEdges"/>
<text x="1581.3" y="224.7" fill="#000" stroke="#000" stroke-width="0.15" font-size="9.7px" textLength="32.0" lengthAdjust="spacingAndGlyphs" xml:space="preserve">1.09120</text>
<rect x="1576" y="253" width="4" height="1" fill="#000" shape-rendering="crispEdges"/>
<text x="1581.3" y="256.7" fill="#000" stroke="#000" stroke-width="0.15" font-size="9.7px" textLength="32.0" lengthAdjust="spacingAndGlyphs" xml:space="preserve">1.08530</text>
<rect x="1576" y="285" width="4" height="1" fill="#000" shape-rendering="crispEdges"/>
<text x="1581.3" y="288.7" fill="#000" stroke="#000" stroke-width="0.15" font-size="9.7px" textLength="32.0" lengthAdjust="spacingAndGlyphs" xml:space="preserve">1.07940</text>
<rect x="1576" y="318" width="4" height="1" fill="#000" shape-rendering="crispEdges"/>
<text x="1581.3" y="321.7" fill="#000" stroke="#000" stroke-width="0.15" font-size="9.7px" textLength="32.0" lengthAdjust="spacingAndGlyphs" xml:space="preserve">1.07350</text>
<rect x="1576" y="350" width="4" height="1" fill="#000" shape-rendering="crispEdges"/>
<text x="1581.3" y="353.7" fill="#000" stroke="#000" stroke-width="0.15" font-size="9.7px" textLength="32.0" lengthAdjust="spacingAndGlyphs" xml:space="preserve">1.06760</text>
<rect x="1576" y="382" width="4" height="1" fill="#000" shape-rendering="crispEdges"/>
<text x="1581.3" y="385.7" fill="#000" stroke="#000" stroke-width="0.15" font-size="9.7px" textLength="32.0" lengthAdjust="spacingAndGlyphs" xml:space="preserve">1.06170</text>
<rect x="1576" y="414" width="4" height="1" fill="#000" shape-rendering="crispEdges"/>
<text x="1581.3" y="417.7" fill="#000" stroke="#000" stroke-width="0.15" font-size="9.7px" textLength="32.0" lengthAdjust="spacingAndGlyphs" xml:space="preserve">1.05580</text>
<rect x="1576" y="446" width="4" height="1" fill="#000" shape-rendering="crispEdges"/>
<text x="1581.3" y="449.7" fill="#000" stroke="#000" stroke-width="0.15" font-size="9.7px" textLength="32.0" lengthAdjust="spacingAndGlyphs" xml:space="preserve">1.04990</text>
<rect x="1576" y="479" width="4" height="1" fill="#000" shape-rendering="crispEdges"/>
<text x="1581.3" y="482.7" fill="#000" stroke="#000" stroke-width="0.15" font-size="9.7px" textLength="32.0" lengthAdjust="spacingAndGlyphs" xml:space="preserve">1.04400</text>
<rect x="1576" y="511" width="4" height="1" fill="#000" shape-rendering="crispEdges"/>
<text x="1581.3" y="514.7" fill="#000" stroke="#000" stroke-width="0.15" font-size="9.7px" textLength="32.0" lengthAdjust="spacingAndGlyphs" xml:space="preserve">1.03810</text>
<rect x="1576" y="543" width="4" height="1" fill="#000" shape-rendering="crispEdges"/>
<text x="1581.3" y="546.7" fill="#000" stroke="#000" stroke-width="0.15" font-size="9.7px" textLength="32.0" lengthAdjust="spacingAndGlyphs" xml:space="preserve">1.03220</text>
<rect x="1576" y="575" width="4" height="1" fill="#000" shape-rendering="crispEdges"/>
<text x="1581.3" y="578.7" fill="#000" stroke="#000" stroke-width="0.15" font-size="9.7px" textLength="32.0" lengthAdjust="spacingAndGlyphs" xml:space="preserve">1.02630</text>
<rect x="1576" y="607" width="4" height="1" fill="#000" shape-rendering="crispEdges"/>
<text x="1581.3" y="610.7" fill="#000" stroke="#000" stroke-width="0.15" font-size="9.7px" textLength="32.0" lengthAdjust="spacingAndGlyphs" xml:space="preserve">1.02040</text>
<rect x="1576" y="639" width="4" height="1" fill="#000" shape-rendering="crispEdges"/>
<text x="1581.3" y="642.7" fill="#000" stroke="#000" stroke-width="0.15" font-size="9.7px" textLength="32.0" lengthAdjust="spacingAndGlyphs" xml:space="preserve">1.01450</text>
<text x="1581.3" y="682.7" fill="#000" stroke="#000" stroke-width="0.15" font-size="9.7px" textLength="27.1" lengthAdjust="spacingAndGlyphs" xml:space="preserve">100.00</text>
<text x="1581.3" y="709.7" fill="#000" stroke="#000" stroke-width="0.15" font-size="9.7px" textLength="22.2" lengthAdjust="spacingAndGlyphs" xml:space="preserve">70.00</text>
<text x="1581.3" y="731.7" fill="#000" stroke="#000" stroke-width="0.15" font-size="9.7px" textLength="22.2" lengthAdjust="spacingAndGlyphs" xml:space="preserve">50.00</text>
<text x="1581.3" y="753.7" fill="#000" stroke="#000" stroke-width="0.15" font-size="9.7px" textLength="22.2" lengthAdjust="spacingAndGlyphs" xml:space="preserve">30.00</text>
<text x="1581.3" y="779.7" fill="#000" stroke="#000" stroke-width="0.15" font-size="9.7px" textLength="17.3" lengthAdjust="spacingAndGlyphs" xml:space="preserve">0.00</text>
<rect x="1576" y="706" width="4" height="1" fill="#000" shape-rendering="crispEdges"/>
<rect x="1576" y="728" width="4" height="1" fill="#000" shape-rendering="crispEdges"/>
<rect x="1576" y="750" width="4" height="1" fill="#000" shape-rendering="crispEdges"/>
<rect x="1576" y="835" width="4" height="1" fill="#000" shape-rendering="crispEdges"/>
<text x="1581.3" y="792.7" fill="#000" stroke="#000" stroke-width="0.15" font-size="9.7px" textLength="37.0" lengthAdjust="spacingAndGlyphs" xml:space="preserve">0.010394</text>
<text x="1581.3" y="838.7" fill="#000" stroke="#000" stroke-width="0.15" font-size="9.7px" textLength="37.0" lengthAdjust="spacingAndGlyphs" xml:space="preserve">0.000000</text>
<text x="1581.3" y="895.7" fill="#000" stroke="#000" stroke-width="0.15" font-size="9.7px" textLength="39.9" lengthAdjust="spacingAndGlyphs" xml:space="preserve">-0.012928</text>
<rect x="1578" y="18" width="39" height="11" fill="#000" shape-rendering="crispEdges"/>
<text x="1581.3" y="26.7" fill="#fff" stroke="#fff" stroke-width="0.15" font-size="9.7px" textLength="32.0" lengthAdjust="spacingAndGlyphs" xml:space="preserve">1.12750</text>
<rect x="1578" y="51" width="39" height="11" fill="#000" shape-rendering="crispEdges"/>
<text x="1581.3" y="59.7" fill="#fff" stroke="#fff" stroke-width="0.15" font-size="9.7px" textLength="32.0" lengthAdjust="spacingAndGlyphs" xml:space="preserve">1.12150</text>
<rect x="1578" y="130" width="39" height="11" fill="#000" shape-rendering="crispEdges"/>
<text x="1581.3" y="138.7" fill="#fff" stroke="#fff" stroke-width="0.15" font-size="9.7px" textLength="32.0" lengthAdjust="spacingAndGlyphs" xml:space="preserve">1.10700</text>
<rect x="1578" y="168" width="39" height="11" fill="#000" shape-rendering="crispEdges"/>
<text x="1581.3" y="176.7" fill="#fff" stroke="#fff" stroke-width="0.15" font-size="9.7px" textLength="32.0" lengthAdjust="spacingAndGlyphs" xml:space="preserve">1.10000</text>
<rect x="1578" y="201" width="39" height="11" fill="#000" shape-rendering="crispEdges"/>
<text x="1581.3" y="209.7" fill="#fff" stroke="#fff" stroke-width="0.15" font-size="9.7px" textLength="32.0" lengthAdjust="spacingAndGlyphs" xml:space="preserve">1.09400</text>
<rect x="1578" y="268" width="39" height="11" fill="#000" shape-rendering="crispEdges"/>
<text x="1581.3" y="276.7" fill="#fff" stroke="#fff" stroke-width="0.15" font-size="9.7px" textLength="32.0" lengthAdjust="spacingAndGlyphs" xml:space="preserve">1.08170</text>
<rect x="1578" y="343" width="39" height="11" fill="#000" shape-rendering="crispEdges"/>
<text x="1581.3" y="351.7" fill="#fff" stroke="#fff" stroke-width="0.15" font-size="9.7px" textLength="32.0" lengthAdjust="spacingAndGlyphs" xml:space="preserve">1.06800</text>
<rect x="1578" y="370" width="39" height="11" fill="#000" shape-rendering="crispEdges"/>
<text x="1581.3" y="378.7" fill="#fff" stroke="#fff" stroke-width="0.15" font-size="9.7px" textLength="32.0" lengthAdjust="spacingAndGlyphs" xml:space="preserve">1.06300</text>
<rect x="1578" y="425" width="39" height="11" fill="#000" shape-rendering="crispEdges"/>
<text x="1581.3" y="433.7" fill="#fff" stroke="#fff" stroke-width="0.15" font-size="9.7px" textLength="32.0" lengthAdjust="spacingAndGlyphs" xml:space="preserve">1.05300</text>
<rect x="1578" y="445" width="39" height="11" fill="#000" shape-rendering="crispEdges"/>
<text x="1581.3" y="453.7" fill="#fff" stroke="#fff" stroke-width="0.15" font-size="9.7px" textLength="32.0" lengthAdjust="spacingAndGlyphs" xml:space="preserve">1.04929</text>
<rect x="1578" y="474" width="39" height="11" fill="#000" shape-rendering="crispEdges"/>
<text x="1581.3" y="482.7" fill="#fff" stroke="#fff" stroke-width="0.15" font-size="9.7px" textLength="32.0" lengthAdjust="spacingAndGlyphs" xml:space="preserve">1.04400</text>
<rect x="1578" y="561" width="39" height="11" fill="#000" shape-rendering="crispEdges"/>
<text x="1581.3" y="569.7" fill="#fff" stroke="#fff" stroke-width="0.15" font-size="9.7px" textLength="32.0" lengthAdjust="spacingAndGlyphs" xml:space="preserve">1.02800</text>
<rect x="1578" y="594" width="39" height="11" fill="#000" shape-rendering="crispEdges"/>
<text x="1581.3" y="602.7" fill="#fff" stroke="#fff" stroke-width="0.15" font-size="9.7px" textLength="32.0" lengthAdjust="spacingAndGlyphs" xml:space="preserve">1.02200</text>
<rect x="1578" y="618" width="39" height="11" fill="#000" shape-rendering="crispEdges"/>
<text x="1581.3" y="626.7" fill="#fff" stroke="#fff" stroke-width="0.15" font-size="9.7px" textLength="32.0" lengthAdjust="spacingAndGlyphs" xml:space="preserve">1.01760</text>
<rect x="1578" y="659" width="39" height="11" fill="#000" shape-rendering="crispEdges"/>
<text x="1581.3" y="667.7" fill="#fff" stroke="#fff" stroke-width="0.15" font-size="9.7px" textLength="32.0" lengthAdjust="spacingAndGlyphs" xml:space="preserve">1.01000</text>
<rect x="2" y="899" width="1" height="4" fill="#000" shape-rendering="crispEdges"/>
<text x="2.5" y="910.6" fill="#000" stroke="#000" stroke-width="0.15" font-size="9.7px" textLength="46.1" lengthAdjust="spacingAndGlyphs" xml:space="preserve">10 Jul 2024</text>
<rect x="66" y="899" width="1" height="4" fill="#000" shape-rendering="crispEdges"/>
<text x="66.5" y="910.6" fill="#000" stroke="#000" stroke-width="0.15" font-size="9.7px" textLength="46.1" lengthAdjust="spacingAndGlyphs" xml:space="preserve">22 Jul 2024</text>
<rect x="130" y="899" width="1" height="4" fill="#000" shape-rendering="crispEdges"/>
<text x="130.5" y="910.6" fill="#000" stroke="#000" stroke-width="0.15" font-size="9.7px" textLength="45.1" lengthAdjust="spacingAndGlyphs" xml:space="preserve">1 Aug 2024</text>
<rect x="194" y="899" width="1" height="4" fill="#000" shape-rendering="crispEdges"/>
<text x="194.5" y="910.6" fill="#000" stroke="#000" stroke-width="0.15" font-size="9.7px" textLength="50.0" lengthAdjust="spacingAndGlyphs" xml:space="preserve">13 Aug 2024</text>
<rect x="258" y="899" width="1" height="4" fill="#000" shape-rendering="crispEdges"/>
<text x="258.5" y="910.6" fill="#000" stroke="#000" stroke-width="0.15" font-size="9.7px" textLength="50.0" lengthAdjust="spacingAndGlyphs" xml:space="preserve">23 Aug 2024</text>
<rect x="322" y="899" width="1" height="4" fill="#000" shape-rendering="crispEdges"/>
<text x="322.5" y="910.6" fill="#000" stroke="#000" stroke-width="0.15" font-size="9.7px" textLength="45.6" lengthAdjust="spacingAndGlyphs" xml:space="preserve">4 Sep 2024</text>
<rect x="386" y="899" width="1" height="4" fill="#000" shape-rendering="crispEdges"/>
<text x="386.5" y="910.6" fill="#000" stroke="#000" stroke-width="0.15" font-size="9.7px" textLength="50.5" lengthAdjust="spacingAndGlyphs" xml:space="preserve">16 Sep 2024</text>
<rect x="450" y="899" width="1" height="4" fill="#000" shape-rendering="crispEdges"/>
<text x="450.5" y="910.6" fill="#000" stroke="#000" stroke-width="0.15" font-size="9.7px" textLength="50.5" lengthAdjust="spacingAndGlyphs" xml:space="preserve">26 Sep 2024</text>
<rect x="514" y="899" width="1" height="4" fill="#000" shape-rendering="crispEdges"/>
<text x="514.5" y="910.6" fill="#000" stroke="#000" stroke-width="0.15" font-size="9.7px" textLength="43.6" lengthAdjust="spacingAndGlyphs" xml:space="preserve">8 Oct 2024</text>
<rect x="578" y="899" width="1" height="4" fill="#000" shape-rendering="crispEdges"/>
<text x="578.5" y="910.6" fill="#000" stroke="#000" stroke-width="0.15" font-size="9.7px" textLength="48.5" lengthAdjust="spacingAndGlyphs" xml:space="preserve">18 Oct 2024</text>
<rect x="642" y="899" width="1" height="4" fill="#000" shape-rendering="crispEdges"/>
<text x="642.5" y="910.6" fill="#000" stroke="#000" stroke-width="0.15" font-size="9.7px" textLength="48.5" lengthAdjust="spacingAndGlyphs" xml:space="preserve">29 Oct 2024</text>
<rect x="706" y="899" width="1" height="4" fill="#000" shape-rendering="crispEdges"/>
<text x="706.5" y="910.6" fill="#000" stroke="#000" stroke-width="0.15" font-size="9.7px" textLength="45.6" lengthAdjust="spacingAndGlyphs" xml:space="preserve">8 Nov 2024</text>
<rect x="770" y="899" width="1" height="4" fill="#000" shape-rendering="crispEdges"/>
<text x="770.5" y="910.6" fill="#000" stroke="#000" stroke-width="0.15" font-size="9.7px" textLength="50.5" lengthAdjust="spacingAndGlyphs" xml:space="preserve">20 Nov 2024</text>
<rect x="834" y="899" width="1" height="4" fill="#000" shape-rendering="crispEdges"/>
<text x="834.5" y="910.6" fill="#000" stroke="#000" stroke-width="0.15" font-size="9.7px" textLength="45.6" lengthAdjust="spacingAndGlyphs" xml:space="preserve">2 Dec 2024</text>
<rect x="898" y="899" width="1" height="4" fill="#000" shape-rendering="crispEdges"/>
<text x="898.5" y="910.6" fill="#000" stroke="#000" stroke-width="0.15" font-size="9.7px" textLength="50.5" lengthAdjust="spacingAndGlyphs" xml:space="preserve">12 Dec 2024</text>
<rect x="962" y="899" width="1" height="4" fill="#000" shape-rendering="crispEdges"/>
<text x="962.5" y="910.6" fill="#000" stroke="#000" stroke-width="0.15" font-size="9.7px" textLength="50.5" lengthAdjust="spacingAndGlyphs" xml:space="preserve">24 Dec 2024</text>
<rect x="1026" y="899" width="1" height="4" fill="#000" shape-rendering="crispEdges"/>
<text x="1026.5" y="910.6" fill="#000" stroke="#000" stroke-width="0.15" font-size="9.7px" textLength="44.1" lengthAdjust="spacingAndGlyphs" xml:space="preserve">7 Jan 2025</text>
<rect x="1090" y="899" width="1" height="4" fill="#000" shape-rendering="crispEdges"/>
<text x="1090.5" y="910.6" fill="#000" stroke="#000" stroke-width="0.15" font-size="9.7px" textLength="49.0" lengthAdjust="spacingAndGlyphs" xml:space="preserve">17 Jan 2025</text>
<rect x="1154" y="899" width="1" height="4" fill="#000" shape-rendering="crispEdges"/>
<text x="1154.5" y="910.6" fill="#000" stroke="#000" stroke-width="0.15" font-size="9.7px" textLength="49.0" lengthAdjust="spacingAndGlyphs" xml:space="preserve">29 Jan 2025</text>
<rect x="1218" y="899" width="1" height="4" fill="#000" shape-rendering="crispEdges"/>
<text x="1218.5" y="910.6" fill="#000" stroke="#000" stroke-width="0.15" font-size="9.7px" textLength="50.0" lengthAdjust="spacingAndGlyphs" xml:space="preserve">10 Feb 2025</text>
<text x="6.3" y="13" fill="#000" stroke="#000" stroke-width="0.15" font-size="9.7px" textLength="151.5" lengthAdjust="spacingAndGlyphs" xml:space="preserve">EURUSD, Daily:  Euro vs US Dollar</text>
<text x="5.6" y="687" fill="#000" stroke="#000" stroke-width="0.15" font-size="9.7px" textLength="58.8" lengthAdjust="spacingAndGlyphs" xml:space="preserve">RSI(14) 60.46</text>
<text x="5.6" y="797" fill="#000" stroke="#000" stroke-width="0.15" font-size="9.7px" textLength="151.0" lengthAdjust="spacingAndGlyphs" xml:space="preserve">MACD(12,26,9) 0.001368 -0.000366</text>
<text x="1551.3" y="54" fill="#00BFFF" stroke="#00BFFF" stroke-width="0.15" font-size="9.7px" textLength="22.0" lengthAdjust="spacingAndGlyphs" xml:space="preserve">100.0</text>
<text x="1556.3" y="270" fill="#00BFFF" stroke="#00BFFF" stroke-width="0.15" font-size="9.7px" textLength="17.0" lengthAdjust="spacingAndGlyphs" xml:space="preserve">61.8</text>
<text x="1561.3" y="619.5" fill="#00BFFF" stroke="#00BFFF" stroke-width="0.15" font-size="9.7px" textLength="12.3" lengthAdjust="spacingAndGlyphs" xml:space="preserve">0.0</text>
</g>
<text x="897.4" y="107.7" font-size="36.3px" fill="#000" font-family="Liberation Sans, Arial, sans-serif" textLength="360.6" lengthAdjust="spacingAndGlyphs" text-anchor="start">EURUSD - Daily chart</text>
<text x="593.5" y="122.8" font-size="17.6px" fill="#000" font-family="Liberation Sans, Arial, sans-serif" textLength="199.5" lengthAdjust="spacingAndGlyphs" text-anchor="start">Medium-term falling line</text>
<text x="1370.3" y="21.6" font-size="19.2px" fill="#FF0000" font-family="Liberation Sans, Arial, sans-serif" textLength="158.8" lengthAdjust="spacingAndGlyphs" text-anchor="start">1.1275 (July 2023)</text>
<text x="1338.7" y="52.9" font-size="19.2px" fill="#FF0000" font-family="Liberation Sans, Arial, sans-serif" textLength="196.6" lengthAdjust="spacingAndGlyphs" text-anchor="start">1.1215 (14-month high)</text>
<text x="1426.4" y="133.7" font-size="19.3px" fill="#FF0000" font-family="Liberation Sans, Arial, sans-serif" textLength="59.8" lengthAdjust="spacingAndGlyphs" text-anchor="start">1.1070</text>
<text x="1426.4" y="173.1" font-size="19.3px" fill="#FF0000" font-family="Liberation Sans, Arial, sans-serif" textLength="59.8" lengthAdjust="spacingAndGlyphs" text-anchor="start">1.1000</text>
<text x="1426.4" y="205.5" font-size="19.3px" fill="#FF0000" font-family="Liberation Sans, Arial, sans-serif" textLength="59.8" lengthAdjust="spacingAndGlyphs" text-anchor="start">1.0940</text>
<text x="1370.6" y="271.2" font-size="19.9px" fill="#00B7FF" font-family="Liberation Sans, Arial, sans-serif" textLength="174.6" lengthAdjust="spacingAndGlyphs" text-anchor="start">1.0817 (61.8% Fibo)</text>
<text x="1426.4" y="343.5" font-size="19.3px" fill="#FF0000" font-family="Liberation Sans, Arial, sans-serif" textLength="59.8" lengthAdjust="spacingAndGlyphs" text-anchor="start">1.0680</text>
<text x="1426.4" y="370.6" font-size="19.3px" fill="#FF0000" font-family="Liberation Sans, Arial, sans-serif" textLength="59.8" lengthAdjust="spacingAndGlyphs" text-anchor="start">1.0630</text>
<text x="1426.4" y="425" font-size="19.3px" fill="#FF0000" font-family="Liberation Sans, Arial, sans-serif" textLength="59.8" lengthAdjust="spacingAndGlyphs" text-anchor="start">1.0530</text>
<text x="1426.4" y="476" font-size="19.3px" fill="#008000" font-family="Liberation Sans, Arial, sans-serif" textLength="59.8" lengthAdjust="spacingAndGlyphs" text-anchor="start">1.0440</text>
<text x="1426.4" y="565" font-size="19.3px" fill="#008000" font-family="Liberation Sans, Arial, sans-serif" textLength="59.8" lengthAdjust="spacingAndGlyphs" text-anchor="start">1.0280</text>
<text x="1426.4" y="594.9" font-size="19.3px" fill="#008000" font-family="Liberation Sans, Arial, sans-serif" textLength="59.8" lengthAdjust="spacingAndGlyphs" text-anchor="start">1.0220</text>
<text x="1346.6" y="619.6" font-size="19.3px" fill="#008000" font-family="Liberation Sans, Arial, sans-serif" textLength="190" lengthAdjust="spacingAndGlyphs" text-anchor="start">1.0176 (26-month low)</text>
<text x="1354.4" y="661.7" font-size="19.3px" fill="#008000" font-family="Liberation Sans, Arial, sans-serif" textLength="156" lengthAdjust="spacingAndGlyphs" text-anchor="start">1.0100 (Oct 2022)</text>
<text x="1122.5" y="291" font-size="16.5px" fill="#0000F0" font-family="Liberation Sans, Arial, sans-serif" textLength="67.5" lengthAdjust="spacingAndGlyphs" text-anchor="start">200-SMA</text>
<text x="1099" y="325" font-size="16.5px" fill="#BA55D3" font-family="Liberation Sans, Arial, sans-serif" textLength="67" lengthAdjust="spacingAndGlyphs" text-anchor="start">100-SMA</text>
<text x="1010" y="407" font-size="16.5px" fill="#FFA000" font-family="Liberation Sans, Arial, sans-serif" textLength="59" lengthAdjust="spacingAndGlyphs" text-anchor="start">50-SMA</text>
<text x="810" y="368.5" font-size="16.5px" fill="#008000" font-family="Liberation Sans, Arial, sans-serif" textLength="59" lengthAdjust="spacingAndGlyphs" text-anchor="start">20-SMA</text>
<text x="1306.3" y="725.9" font-size="16.4px" fill="#2F4F4F" font-family="Liberation Sans, Arial, sans-serif" textLength="190.3" lengthAdjust="spacingAndGlyphs" text-anchor="start">RSI flattens above 50 level</text>
<text x="1234.6" y="820" font-size="16.4px" fill="#2F4F4F" font-family="Liberation Sans, Arial, sans-serif" textLength="315" lengthAdjust="spacingAndGlyphs" text-anchor="start">MACD rises above its trigger and zero lines</text>
</svg>
</body></html>
